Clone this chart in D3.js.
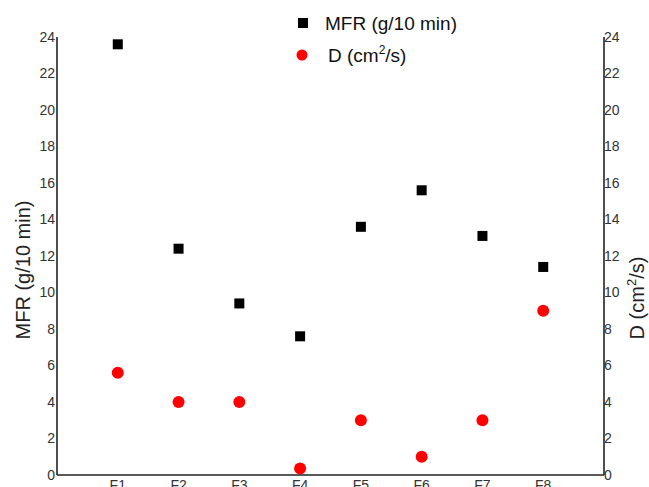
<!DOCTYPE html>
<html><head><meta charset="utf-8">
<script src="https://cdn.jsdelivr.net/npm/d3@7"></script>
<style>body{margin:0;background:#fff}svg{display:block}</style>
</head><body>
<svg id="c" width="649" height="487"></svg>
<script>
const categories = ["F1","F2","F3","F4","F5","F6","F7","F8"];
const mfrValues = [23.6, 12.4, 9.4, 7.6, 13.6, 15.6, 13.1, 11.4];
const dValues = [5.6, 4.0, 4.0, 0.35, 3.0, 1.0, 3.0, 9.0];
const yTicks = [0,2,4,6,8,10,12,14,16,18,20,22,24];

(function () {
const svg = d3.select("#c");
const mLeft = 57, mRight = 604, mTop = 37, mBottom = 475;
const font = "Liberation Sans, Arial, sans-serif";

const x = d3.scaleLinear().domain([0, 9]).range([mLeft, mRight]);
const y = d3.scaleLinear().domain([0, 24]).range([mBottom, mTop]);

const axisColor = "#222";
svg.append("line").attr("x1", mLeft).attr("x2", mLeft).attr("y1", y(24)).attr("y2", y(0))
  .attr("stroke", axisColor).attr("stroke-width", 1.6);
svg.append("line").attr("x1", mRight).attr("x2", mRight).attr("y1", y(24)).attr("y2", y(0))
  .attr("stroke", axisColor).attr("stroke-width", 1.6);
svg.append("line").attr("x1", mLeft).attr("x2", mRight).attr("y1", y(0)).attr("y2", y(0))
  .attr("stroke", axisColor).attr("stroke-width", 1.6);

svg.append("g").selectAll("text").data(yTicks).join("text")
  .attr("x", mLeft - 2).attr("y", d => y(d)).attr("dy", "0.35em")
  .attr("text-anchor", "end").attr("font-family", font).attr("font-size", 14)
  .attr("fill", "#333").text(d => d);

svg.append("g").selectAll("text").data(yTicks).join("text")
  .attr("x", mRight).attr("y", d => y(d)).attr("dy", "0.35em")
  .attr("text-anchor", "start").attr("font-family", font).attr("font-size", 14)
  .attr("fill", "#333").text(d => d);

svg.append("g").selectAll("text").data(categories).join("text")
  .attr("x", (d, i) => x(i + 1)).attr("y", 490)
  .attr("text-anchor", "middle").attr("font-family", font).attr("font-size", 14)
  .attr("fill", "#333").text(d => d);

svg.append("text").attr("transform", "translate(30,270) rotate(-90)")
  .attr("text-anchor", "middle").attr("font-family", font).attr("font-size", 20)
  .attr("fill", "#222").text("MFR (g/10 min)");

const rt = svg.append("text").attr("transform", "translate(644,298) rotate(-90)")
  .attr("text-anchor", "middle").attr("font-family", font).attr("font-size", 20)
  .attr("fill", "#222");
rt.append("tspan").text("D (cm");
rt.append("tspan").attr("font-size", 13).attr("dy", -8).text("2");
rt.append("tspan").attr("dy", 8).text("/s)");

const sq = 10;
svg.append("g").selectAll("rect").data(mfrValues).join("rect")
  .attr("x", (d, i) => x(i + 1) - sq / 2).attr("y", d => y(d) - sq / 2)
  .attr("width", sq).attr("height", sq).attr("fill", "#000");

svg.append("g").selectAll("circle").data(dValues).join("circle")
  .attr("cx", (d, i) => x(i + 1)).attr("cy", d => y(d))
  .attr("r", 6).attr("fill", "#ff0000");

svg.append("rect").attr("x", 298).attr("y", 18).attr("width", 10).attr("height", 10).attr("fill", "#000");
svg.append("text").attr("x", 325).attr("y", 23).attr("dy", "0.35em")
  .attr("font-family", font).attr("font-size", 19).attr("fill", "#111").text("MFR (g/10 min)");
svg.append("circle").attr("cx", 302).attr("cy", 55).attr("r", 5.5).attr("fill", "#ff0000");
const lt = svg.append("text").attr("x", 328).attr("y", 55).attr("dy", "0.35em")
  .attr("font-family", font).attr("font-size", 19).attr("fill", "#111");
lt.append("tspan").text("D (cm");
lt.append("tspan").attr("font-size", 12).attr("dy", -8).text("2");
lt.append("tspan").attr("dy", 8).text("/s)");
})();
</script>
</body></html>
